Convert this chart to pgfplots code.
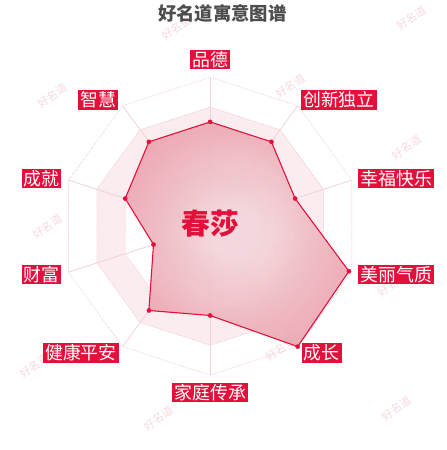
\documentclass[border=0pt]{standalone}
\usepackage{fontspec}
\usepackage{pgfplots}
\pgfplotsset{compat=1.18}
\newfontfamily\cjk{Noto Sans CJK SC}

\definecolor{hmred}{HTML}{E2103A}
\definecolor{hmgray}{HTML}{4D4D4D}
\definecolor{bandpink}{HTML}{FBECEF}
\definecolor{ringpink}{HTML}{EBC6CD}
\definecolor{spokepink}{HTML}{F0D3D8}
\definecolor{wmpink}{HTML}{F5DADE}
\definecolor{petalin}{HTML}{F3D6DB}
\definecolor{petalmid}{HTML}{EDAAB5}
\definecolor{petalout}{HTML}{E68A9A}
\pgfdeclareradialshading{petal}{\pgfpoint{0bp}{0bp}}{color(0bp)=(petalin);color(5bp)=(petalin);color(24bp)=(petalmid);color(50bp)=(petalout)}

\tikzset{
  dim/.style={fill=hmred, text=white, inner xsep=2pt, inner ysep=0pt, minimum height=20pt,
    font=\cjk\fontsize{18}{18}\selectfont},
  wm/.style={text=wmpink, rotate=35, font=\cjk\fontsize{11}{11}\selectfont},
}

\begin{document}
\begin{tikzpicture}
\begin{axis}[
  scale only axis, width=450pt, height=450pt,
  xmin=-14.113, xmax=15.887, ymin=-15.033, ymax=14.967,
  hide axis, clip=false,
]
\path (rel axis cs:0,0) rectangle (rel axis cs:1,1);

% watermarks
\node[wm] at (axis cs:-2.25,13.3) {好名道};
\node[wm] at (axis cs:13.55,13.97) {好名道};
\node[wm] at (axis cs:-10.58,8.77) {好名道};
\node[wm] at (axis cs:5.42,9.43) {好名道};
\node[wm] at (axis cs:13.22,5.3) {好名道};
\node[wm] at (axis cs:-10.91,-0.03) {好名道};
\node[wm] at (axis cs:12.22,-3.9) {好名道};
\node[wm] at (axis cs:-11.78,-9.37) {好名道};
\node[wm] at (axis cs:-3.45,-12.9) {好名道};
\node[wm] at (axis cs:4.75,-8.23) {好名道};
\node[wm] at (axis cs:12.55,-12.23) {好名道};

% split areas
\addplot[data cs=polar, draw=none, fill=bandpink] coordinates {(90,8) (54,8) (18,8) (-18,8) (-54,8) (-90,8) (-126,8) (-162,8) (162,8) (126,8) (90,8)};
\addplot[data cs=polar, draw=none, fill=white] coordinates {(90,6) (54,6) (18,6) (-18,6) (-54,6) (-90,6) (-126,6) (-162,6) (162,6) (126,6) (90,6)};
\addplot[data cs=polar, draw=none, fill=bandpink] coordinates {(90,4) (54,4) (18,4) (-18,4) (-54,4) (-90,4) (-126,4) (-162,4) (162,4) (126,4) (90,4)};
\addplot[data cs=polar, draw=none, fill=white] coordinates {(90,2) (54,2) (18,2) (-18,2) (-54,2) (-90,2) (-126,2) (-162,2) (162,2) (126,2) (90,2)};

% rings
\pgfplotsinvokeforeach{2,4,6,8,10}{
  \addplot[data cs=polar, draw=ringpink, line width=0.7pt, densely dotted] coordinates {(90,#1) (54,#1) (18,#1) (-18,#1) (-54,#1) (-90,#1) (-126,#1) (-162,#1) (162,#1) (126,#1) (90,#1)};
}
% spokes
\pgfplotsinvokeforeach{90,54,18,-18,-54,-90,-126,-162,162,126}{
  \addplot[data cs=polar, draw=spokepink, line width=0.8pt] coordinates {(0,0) (#1,10)};
}

% values: 品德 创新独立 幸福快乐 美丽气质 成长 家庭传承 健康平安 财富 成就 智慧
\addplot[data cs=polar, draw=hmred, line width=1.1pt, shade, shading=petal, fill opacity=0.92, line join=round]
  coordinates {(90,7) (54,7) (18,6) (-18,9.8) (-54,10) (-90,6) (-126,7) (-162,4) (162,6) (126,7) (90,7)};
\addplot[data cs=polar, only marks, mark=*, mark size=2.1pt, mark options={fill=hmred, draw=hmred}]
  coordinates {(90,7) (54,7) (18,6) (-18,9.8) (-54,10) (-90,6) (-126,7) (-162,4) (162,6) (126,7)};

% dimension labels
\node[dim] at (axis cs:0,11.19) {品德};
\node[dim] at (axis cs:8.65,8.5) {创新独立};
\node[dim] at (axis cs:12.49,3.2) {幸福快乐};
\node[dim] at (axis cs:12.49,-3.25) {美丽气质};
\node[dim] at (axis cs:7.49,-8.52) {成长};
\node[dim] at (axis cs:0,-11.17) {家庭传承};
\node[dim] at (axis cs:-8.68,-8.5) {健康平安};
\node[dim] at (axis cs:-11.33,-3.25) {财富};
\node[dim] at (axis cs:-11.33,3.2) {成就};
\node[dim] at (axis cs:-7.51,8.48) {智慧};

% title and name
\node[text=hmgray, font=\cjk\bfseries\fontsize{18.5}{18.5}\selectfont] at (axis cs:0.82,14.3) {好名道寓意图谱};
\node[text=hmred, font=\cjk\bfseries\fontsize{29}{29}\selectfont] at (axis cs:0,0.17) {春莎};
\end{axis}
\end{tikzpicture}
\end{document}
